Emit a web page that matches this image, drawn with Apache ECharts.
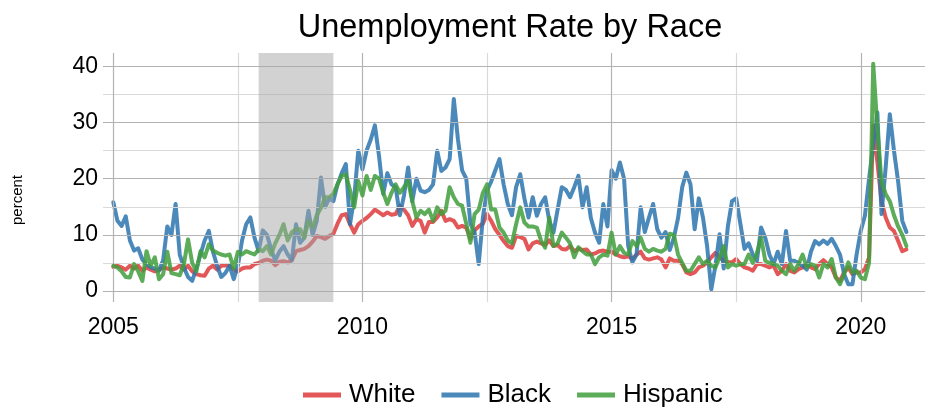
<!DOCTYPE html>
<html>
<head>
<meta charset="utf-8">
<script src="https://cdn.jsdelivr.net/npm/echarts@6/dist/echarts.min.js"></script>
<style>
  html, body { margin: 0; padding: 0; background: #ffffff; }
  #chart { width: 935px; height: 410px; }
</style>
</head>
<body>
<div id="chart"></div>
<script>
// Monthly unemployment rate (percent), January 2005 to December 2020
const startYear = 2005;
const seriesNames = ['White', 'Black', 'Hispanic'];

const white = [
  4.3, 4.5, 4.2, 3.8, 4.5, 4.0, 4.5, 3.6, 4.2, 3.8, 3.5, 3.8, 4.2, 4.0, 3.8, 4.0, 4.5, 3.8, 4.5,
  3.5, 3.0, 2.8, 2.7, 4.0, 4.5, 3.8, 4.5, 4.6, 4.5, 3.8, 3.5, 4.0, 4.2, 4.2, 4.8, 5.0, 5.4, 5.6,
  5.4, 4.6, 5.2, 5.3, 5.1, 5.5, 7.1, 7.3, 7.5, 8.0, 8.8, 9.8, 9.6, 9.3, 9.8, 10.2, 12.0, 13.5, 13.7, 11.9,
  10.4, 11.9, 12.5, 13.0, 13.7, 14.5, 14.0, 13.5, 14.0, 13.6, 13.7, 15.2, 14.5, 13.5, 11.6, 12.8, 12.5, 10.4, 12.3,
  12.3, 13.1, 14.3, 12.5, 12.8, 12.5, 11.3, 11.6, 11.3, 9.3, 10.8, 11.5, 12.0, 13.7, 12.5, 11.0, 10.0, 8.9, 8.0,
  7.7, 9.8, 9.6, 9.3, 7.4, 8.5, 8.8, 8.5, 8.2, 9.0, 8.0, 8.2, 7.5, 7.4, 8.0, 7.1, 7.5, 7.3, 7.4,
  6.5, 6.7, 7.1, 7.2, 7.0, 7.0, 6.5, 6.2, 6.0, 6.2, 5.7, 6.5, 7.0, 5.8, 5.6, 5.8, 6.0, 5.6, 4.2, 5.8,
  5.4, 5.4, 4.8, 3.3, 3.0, 3.3, 4.2, 4.5, 5.1, 6.0, 6.8, 6.0, 5.4, 5.1, 5.1, 5.7, 4.8, 4.2, 4.0,
  3.6, 4.8, 4.8, 4.5, 4.2, 4.5, 3.0, 3.6, 4.8, 3.6, 3.3, 3.9, 4.2, 4.8, 4.2, 3.9, 4.8, 5.5,
  4.8, 4.2, 2.4, 1.8, 3.3, 4.2, 3.0, 3.3, 3.3, 3.9, 6.0, 29.5, 23.0, 16.0, 13.1, 11.3, 10.7, 8.9, 7.1, 7.4
];

const black = [
  15.8, 12.5, 11.6, 13.3, 9.0, 7.2, 7.6, 5.6, 4.8, 4.2, 4.0, 3.6, 5.5, 11.5, 10.0, 15.5, 6.5, 4.2, 2.5,
  1.8, 4.0, 6.5, 9.0, 10.7, 7.0, 4.5, 2.5, 3.2, 4.5, 2.1, 4.5, 9.0, 11.9, 13.1, 9.5, 7.1, 10.8, 10.0,
  7.5, 5.4, 7.0, 8.0, 6.5, 5.5, 11.9, 8.6, 9.5, 14.3, 10.0, 12.5, 20.2, 15.0, 16.5, 16.0, 19.0, 21.0, 22.6, 11.9,
  16.5, 25.0, 21.7, 25.0, 27.0, 29.5, 24.0, 17.3, 21.0, 19.0, 18.5, 13.5, 17.0, 22.0, 16.0, 20.0, 17.9, 17.6, 18.0,
  19.0, 25.0, 21.4, 22.0, 23.5, 34.2, 27.0, 21.5, 20.0, 12.0, 10.5, 4.8, 13.1, 17.9, 19.5, 21.5, 23.5, 19.0, 15.5,
  13.5, 18.5, 20.8, 16.5, 13.1, 16.7, 13.4, 15.5, 16.7, 12.5, 10.4, 14.5, 18.5, 18.0, 16.7, 18.5, 20.5, 14.9, 18.5,
  13.0, 10.4, 8.6, 15.5, 11.5, 21.5, 20.0, 22.9, 20.0, 8.0, 5.1, 6.5, 14.9, 10.5, 13.1, 15.5, 11.0, 9.5, 10.5, 7.3,
  9.5, 13.0, 18.5, 21.1, 19.0, 11.0, 16.5, 13.1, 8.0, 0.3, 4.5, 10.1, 4.0, 11.5, 16.0, 16.5, 12.0, 7.5, 8.5,
  6.5, 5.4, 11.3, 9.5, 6.5, 4.8, 7.0, 4.8, 10.7, 5.4, 5.4, 5.0, 4.5, 3.8, 7.0, 8.9, 8.3, 9.0,
  8.4, 9.3, 8.0, 6.5, 3.0, 1.2, 1.2, 6.5, 10.7, 13.4, 20.0, 26.0, 31.8, 13.7, 22.0, 31.5, 25.0, 19.5, 12.5, 10.5
];

const hispanic = [
  4.5, 4.2, 3.5, 2.5, 2.4, 4.8, 3.5, 1.8, 7.1, 4.5, 6.0, 2.1, 3.0, 7.0, 3.2, 3.0, 2.8, 4.8, 9.2,
  5.0, 3.5, 7.1, 6.0, 8.3, 7.2, 6.8, 6.5, 6.3, 6.5, 4.0, 7.0, 6.5, 7.1, 6.8, 6.5, 7.4, 7.1, 8.0,
  6.5, 8.5, 10.0, 11.9, 9.0, 10.5, 11.0, 11.0, 9.5, 12.5, 11.3, 13.5, 14.8, 16.7, 16.7, 17.3, 19.0, 20.5, 20.8, 18.0,
  14.9, 19.6, 17.0, 20.5, 18.0, 20.5, 20.0, 17.5, 15.5, 17.5, 19.0, 17.5, 18.5, 19.6, 16.0, 13.1, 14.3, 13.7, 14.5,
  12.5, 14.9, 13.7, 14.3, 18.5, 16.7, 15.5, 15.2, 12.0, 8.6, 13.7, 14.5, 17.5, 19.0, 14.5, 14.5, 11.3, 10.4, 9.0,
  8.5, 11.9, 14.9, 12.2, 11.5, 11.5, 11.3, 9.0, 7.7, 13.1, 8.0, 8.5, 10.4, 9.5, 8.5, 6.0, 7.8, 7.1, 6.5,
  6.5, 4.8, 6.0, 6.5, 6.3, 10.4, 6.5, 8.0, 6.8, 6.5, 8.9, 8.0, 9.5, 7.5, 7.0, 7.5, 7.2, 7.0, 7.5, 10.2,
  10.0, 6.5, 5.0, 3.6, 3.6, 4.8, 6.0, 4.8, 5.4, 4.5, 4.2, 6.0, 8.0, 4.2, 4.8, 4.5, 4.8, 4.8, 6.5,
  5.0, 6.8, 9.5, 5.4, 5.0, 4.8, 4.5, 3.6, 3.0, 4.8, 3.6, 4.8, 6.5, 4.2, 4.8, 4.5, 2.4, 4.8,
  4.2, 5.7, 2.4, 1.2, 3.0, 5.1, 3.3, 3.6, 2.4, 2.1, 5.0, 40.5, 29.0, 19.5, 17.3, 16.0, 13.5, 11.5, 10.0, 8.0
];

// Axis ticks and gridlines
const xTicks = [2005, 2010, 2015, 2020];
const xMinorTicks = [2007.5, 2012.5, 2017.5];
const yTicks = [0, 10, 20, 30, 40];
const yMinorTicks = [5, 15, 25, 35];

// Recession period: December 2007 to June 2009
const recession = [2007 + 11 / 12, 2009 + 5 / 12];

const colors = { White: '#DE3A3B', Black: '#2C74AE', Hispanic: '#3F9E3C' };
const FONT = "'Liberation Sans', Arial, sans-serif";

function toPairs(values) {
  return values.map((v, i) => [startYear + i / 12, v]);
}

const valuesByName = { White: white, Black: black, Hispanic: hispanic };

const gridMajor = '#B3B3B3';
const gridMinor = '#D9D9D9';

const gridSeries = {
  name: 'grid',
  type: 'line',
  data: [],
  silent: true,
  z: 0,
  markLine: {
    silent: true,
    symbol: ['none', 'none'],
    label: { show: false },
    animation: false,
    data: [
      ...yMinorTicks.map(v => ({ yAxis: v, lineStyle: { color: gridMinor, width: 1.2, type: 'solid' } })),
      ...xMinorTicks.map(v => ({ xAxis: v, lineStyle: { color: gridMinor, width: 1.2, type: 'solid' } })),
      ...yTicks.map(v => ({ yAxis: v, lineStyle: { color: gridMajor, width: 1.2, type: 'solid' } })),
      ...xTicks.map(v => ({ xAxis: v, lineStyle: { color: gridMajor, width: 1.2, type: 'solid' } }))
    ]
  }
};

const lineSeries = seriesNames.map((name, k) => ({
  name: name,
  type: 'line',
  data: toPairs(valuesByName[name]),
  showSymbol: false,
  symbol: 'none',
  z: 3 + k,
  color: colors[name],
  itemStyle: { color: colors[name], opacity: 0.85 },
  lineStyle: { color: colors[name], width: 4, opacity: 0.85, join: 'round', cap: 'round' },
  emphasis: { disabled: true }
}));

// Translucent recession band laid over the lines
const recessionSeries = {
  name: 'recession',
  type: 'custom',
  silent: true,
  z: 10,
  data: [recession],
  encode: { x: [0, 1] },
  renderItem: function (params, api) {
    const p0 = api.coord([api.value(0), 0]);
    const p1 = api.coord([api.value(1), 0]);
    const cs = params.coordSys;
    return {
      type: 'rect',
      shape: { x: p0[0], y: cs.y, width: p1[0] - p0[0], height: cs.height },
      style: { fill: 'rgba(166,166,166,0.5)' }
    };
  }
};

const chart = echarts.init(document.getElementById('chart'), null, { renderer: 'canvas' });
chart.setOption({
  animation: false,
  backgroundColor: '#ffffff',
  title: {
    text: 'Unemployment Rate by Race',
    left: 505,
    textAlign: 'center',
    top: 7,
    textStyle: { fontFamily: FONT, fontSize: 32.5, fontWeight: 'normal', color: '#000000' }
  },
  legend: {
    data: seriesNames,
    top: 382,
    left: 303,
    padding: 0,
    icon: 'rect',
    itemWidth: 38,
    itemHeight: 5,
    itemGap: 26,
    textStyle: { fontFamily: FONT, fontSize: 26, color: '#000000', padding: [0, 0, 0, 3] }
  },
  grid: { left: 103, top: 53, width: 822, height: 249, containLabel: false, outerBoundsMode: 'none' },
  xAxis: {
    type: 'value',
    min: 2004.7933,
    max: 2021.2893,
    axisLine: { show: false },
    axisTick: { show: false },
    splitLine: { show: false },
    axisLabel: {
      customValues: xTicks,
      margin: 14,
      fontFamily: FONT,
      fontSize: 23,
      color: '#000000',
      formatter: v => String(v)
    }
  },
  yAxis: {
    type: 'value',
    min: -1.96,
    max: 42.4,
    axisLine: { show: false },
    axisTick: { show: false },
    splitLine: { show: false },
    axisLabel: {
      customValues: yTicks,
      margin: 5,
      fontFamily: FONT,
      fontSize: 23,
      color: '#000000'
    }
  },
  graphic: [{
    type: 'text',
    x: 18,
    y: 200,
    rotation: Math.PI / 2,
    style: {
      text: 'percent',
      fontFamily: FONT,
      fontSize: 15,
      fill: '#000000',
      align: 'center',
      verticalAlign: 'middle'
    }
  }],
  series: [gridSeries, ...lineSeries, recessionSeries]
});
</script>
</body>
</html>
